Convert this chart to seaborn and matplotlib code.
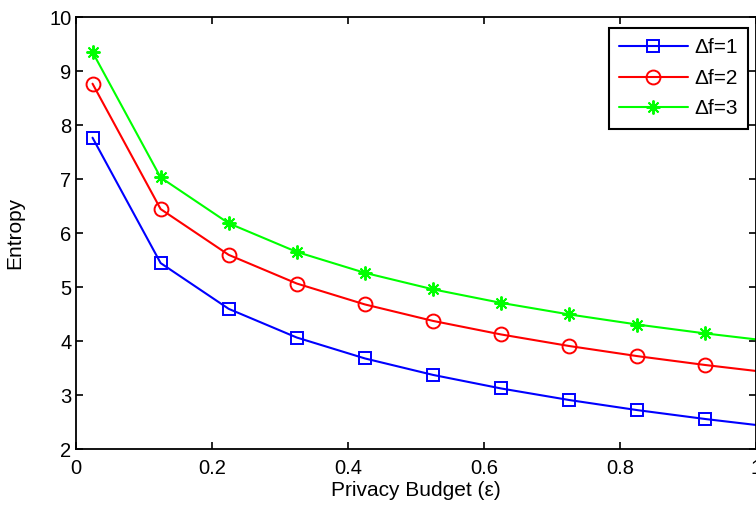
import matplotlib
matplotlib.use("Agg")
import matplotlib.pyplot as plt
import seaborn as sns

# Privacy budget values (the last one sits just past the right edge)
epsilon = [0.025, 0.125, 0.225, 0.325, 0.425, 0.525, 0.625, 0.725, 0.825, 0.925, 1.025]

# Entropy for each sensitivity
entropy_df1 = [7.765, 5.443, 4.595, 4.064, 3.677, 3.372, 3.121, 2.907, 2.720, 2.555, 2.407]
entropy_df2 = [8.765, 6.443, 5.595, 5.064, 4.677, 4.372, 4.121, 3.907, 3.720, 3.555, 3.407]
entropy_df3 = [9.350, 7.028, 6.180, 5.649, 5.262, 4.957, 4.706, 4.492, 4.305, 4.140, 3.992]

labels = ["\u0394f=1", "\u0394f=2", "\u0394f=3"]
x_ticks = [0, 0.2, 0.4, 0.6, 0.8, 1]
y_ticks = [2, 3, 4, 5, 6, 7, 8, 9, 10]

sns.set_theme(style="white")
plt.rcParams["font.family"] = ["Liberation Sans", "DejaVu Sans"]
plt.rcParams.update({"text.color": "black", "axes.labelcolor": "black",
                     "xtick.color": "black", "ytick.color": "black"})

fig = plt.figure(figsize=(7.56, 5.11), dpi=100)
ax = fig.add_axes([75.5 / 756, 62 / 511, 681 / 756, 432 / 511])

series = [
    (entropy_df1, "#0000ff", "s", 8.5),
    (entropy_df2, "#ff0000", "o", 10),
    (entropy_df3, "#00ff00", (8, 2, 0), 10),
]
for (vals, col, mk, ms), lab in zip(series, labels):
    sns.lineplot(x=epsilon, y=vals, ax=ax, color=col, linewidth=1.5,
                 marker=mk, markersize=ms, markerfacecolor="none",
                 markeredgecolor=col, markeredgewidth=1.4, label=lab)

ax.set_xlim(0, 1)
ax.set_ylim(2, 10)
ax.set_xticks(x_ticks)
ax.set_xticklabels(["0", "0.2", "0.4", "0.6", "0.8", "1"])
ax.set_yticks(y_ticks)
ax.tick_params(direction="in", length=5, width=1.2, colors="black",
               labelsize=14.5, top=True, right=True, bottom=True, left=True)
ax.tick_params(axis="x", pad=7)
ax.tick_params(axis="y", pad=3)
for sp in ax.spines.values():
    sp.set_color("black")
    sp.set_linewidth(1.3)

ax.set_xlabel("Privacy Budget (\u03b5)", fontsize=15, labelpad=2, color="black")
ax.set_ylabel("Entropy", fontsize=15, labelpad=18, color="black")

leg = ax.legend(loc="upper right", bbox_to_anchor=(0.9875, 0.9745), fontsize=15,
                frameon=True, fancybox=False, edgecolor="black",
                handlelength=3.3, handletextpad=0.3, borderpad=0.5,
                labelspacing=0.55, borderaxespad=0)
leg.get_frame().set_linewidth(1.5)
leg.get_frame().set_facecolor("white")
leg.get_frame().set_alpha(1)
for t in leg.get_texts():
    t.set_color("black")

fig.savefig("out.png", dpi=100)
